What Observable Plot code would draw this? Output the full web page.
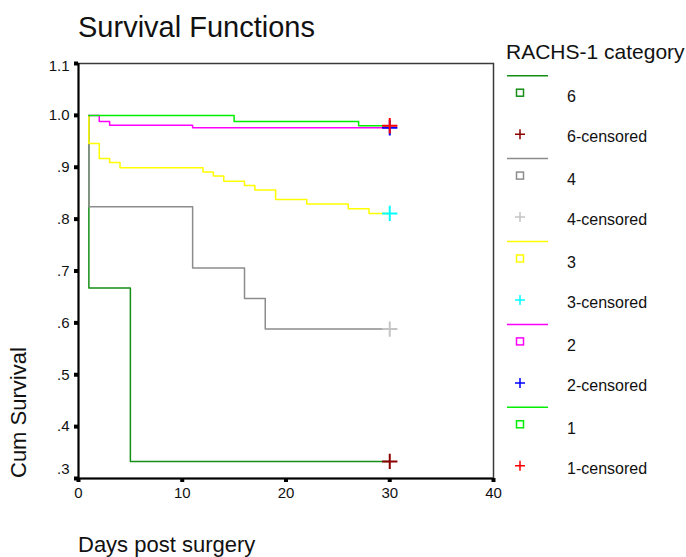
<!DOCTYPE html>
<html>
<head>
<meta charset="utf-8">
<script src="https://cdn.jsdelivr.net/npm/d3@7"></script>
<script src="https://cdn.jsdelivr.net/npm/@observablehq/plot@0.6"></script>
<style>
  html, body { margin: 0; padding: 0; background: #fff; }
  #chart { position: relative; width: 686px; height: 557px; }
  svg { font-family: "Liberation Sans", Arial, sans-serif; }
</style>
</head>
<body>
<div id="chart"></div>
<script>
// ---- data ----
const groups = ["6", "4", "3", "2", "1"];
const lineColors = ["#158f15", "#8c8c8c", "#ffff00", "#ff00ff", "#00ee00"];
const censorColors = ["#8b0000", "#c4c4c4", "#00ffff", "#0000ff", "#ff0000"];
const startDay = 1;
const censorDay = 30;

const days6 = [1, 5];
const surv6 = [0.667, 0.333];
const days4 = [1, 11, 16, 18];
const surv4 = [0.824, 0.706, 0.647, 0.588];
const days3 = [1, 2, 3, 4, 12, 13, 14, 16, 17, 19, 22, 26, 28];
const surv3 = [0.946, 0.917, 0.909, 0.899, 0.891, 0.883, 0.873, 0.865, 0.856, 0.838, 0.829, 0.820, 0.811];
const days2 = [2, 3, 11];
const surv2 = [0.988, 0.981, 0.976];
const days1 = [15, 27];
const surv1 = [0.988, 0.980];

const xTicks = [0, 10, 20, 30, 40];
const yTicks = [0.3, 0.4, 0.5, 0.6, 0.7, 0.8, 0.9, 1.0, 1.1];

const titleText = "Survival Functions";
const xLabel = "Days post surgery";
const yLabel = "Cum Survival";
const legendTitle = "RACHS-1 category";

// ---- build tables ----
const dayArrays = [days6, days4, days3, days2, days1];
const survArrays = [surv6, surv4, surv3, surv2, surv1];
const rows = [];
const censors = [];
groups.forEach((g, i) => {
  const ds = dayArrays[i], ss = survArrays[i];
  rows.push({day: startDay, s: 1, label: g});
  ds.forEach((d, j) => rows.push({day: d, s: ss[j], label: g}));
  const last = ss[ss.length - 1];
  rows.push({day: censorDay, s: last, label: g});
  censors.push({day: censorDay, s: last, label: g + "-censored"});
});
const colorDomain = groups.flatMap(g => [g, g + "-censored"]);
const colorRange = groups.flatMap((g, i) => [lineColors[i], censorColors[i]]);

const fmtY = d => (d >= 1 ? d.toFixed(1) : d.toFixed(1).replace(/^0/, ""));
const midTicks = yTicks.filter(d => d > 0.35 && d < 1.05);

const W = 686, H = 557, ML = 78, MT = 63, MR = 193, MB = 79;
const txt = {tickSize: 0, tickPadding: 9, label: null, fill: "#111", fontSize: 15};

const svg = Plot.plot({
  width: W,
  height: H,
  marginLeft: ML,
  marginTop: MT,
  marginRight: MR,
  marginBottom: MB,
  style: {fontFamily: '"Liberation Sans", Arial, sans-serif', fontSize: "15px", color: "#111", background: "#fff"},
  x: {domain: [0, 40], axis: null},
  y: {domain: [0.3, 1.1], axis: null},
  color: {domain: colorDomain, range: colorRange},
  marks: [
    Plot.frame({stroke: "#3a3a3a", strokeWidth: 1.5}),
    Plot.line(rows, {x: "day", y: "s", z: "label", stroke: "label", curve: "step-after", strokeWidth: 1.5}),
    Plot.dot(censors, {x: "day", y: "s", stroke: "label", symbol: "plus", r: 5, strokeWidth: 2}),
    Plot.ruleX([0], {stroke: "#000", strokeWidth: 2}),
    Plot.ruleY([0.3], {stroke: "#000", strokeWidth: 2}),
    Plot.axisY(yTicks, {tickSize: 4, strokeWidth: 4, stroke: "#000", tickFormat: () => "", label: null}),
    Plot.axisY(midTicks, {...txt, tickFormat: fmtY}),
    Plot.axisY([0.3], {...txt, tickFormat: fmtY, dy: -9}),
    Plot.axisY([1.1], {...txt, tickFormat: fmtY, dy: 3}),
    Plot.axisX(xTicks, {tickSize: 4, strokeWidth: 4, stroke: "#000", tickFormat: () => "", label: null}),
    Plot.axisX(xTicks, {...txt, tickPadding: 9, tickFormat: d => String(d)})
  ]
});

document.getElementById("chart").appendChild(svg);

// ---- titles and legend ----
const s = d3.select(svg);
const addText = (sel, x, y, size, str) =>
  sel.append("text").attr("x", x).attr("y", y).attr("font-size", size)
    .attr("fill", "#111").attr("text-anchor", "start").text(str);

addText(s, ML, 37.3, 29, titleText);
addText(s, ML, 551.5, 22, xLabel);
s.append("text").attr("transform", `translate(26,${H - MB}) rotate(-90)`).attr("font-size", 22)
  .attr("fill", "#111").attr("text-anchor", "start").text(yLabel);

const leg = s.append("g");
addText(leg, 506, 59, 21, legendTitle);
groups.forEach((g, i) => {
  const y0 = 75.7 + 82.9 * i;
  leg.append("line").attr("x1", 507).attr("x2", 548).attr("y1", y0).attr("y2", y0)
    .attr("stroke", lineColors[i]).attr("stroke-width", 1.5);
  leg.append("rect").attr("x", 516.5).attr("y", y0 + 13.5).attr("width", 7).attr("height", 7)
    .attr("fill", "none").attr("stroke", lineColors[i]).attr("stroke-width", 1.5);
  addText(leg, 567, y0 + 26.3, 16, g);
  const py = y0 + 58.5;
  leg.append("path").attr("d", `M515,${py}H525M520,${py - 5}V${py + 5}`)
    .attr("stroke", censorColors[i]).attr("stroke-width", 1.5).attr("fill", "none");
  addText(leg, 567, y0 + 66.3, 16, g + "-censored");
});
</script>
</body>
</html>
